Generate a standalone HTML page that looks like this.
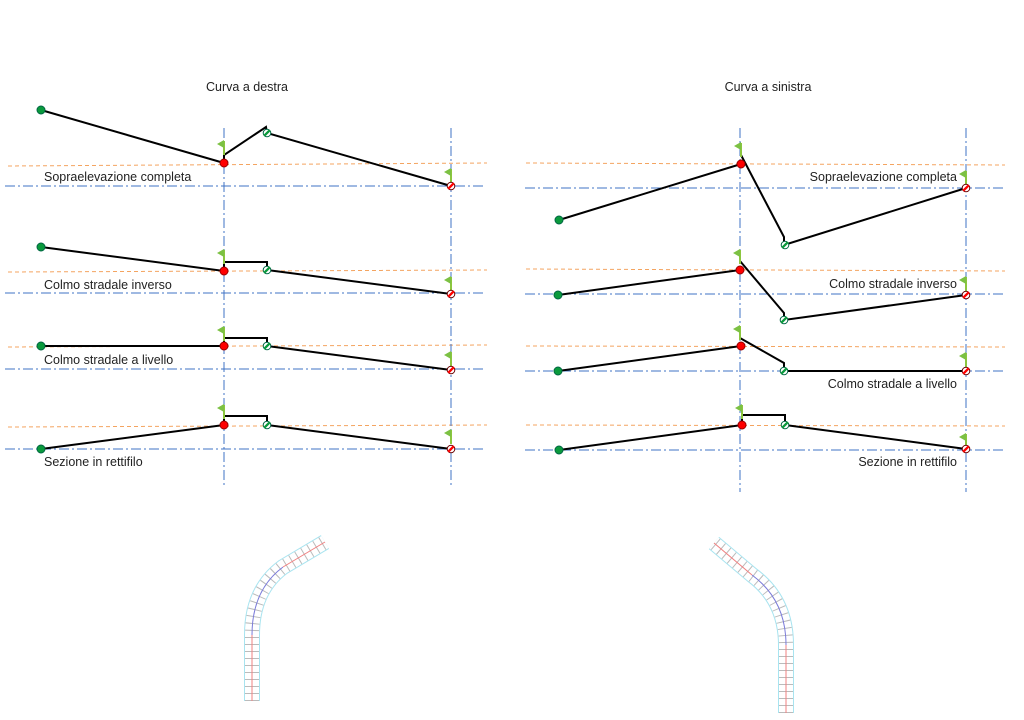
<!DOCTYPE html>
<html><head><meta charset="utf-8"><style>
html,body{margin:0;padding:0;background:#fff;}
svg{display:block;}
text{font-family:"Liberation Sans",sans-serif;font-size:12.5px;fill:#222;}
</style></head><body>
<svg width="1024" height="720" viewBox="0 0 1024 720" xmlns="http://www.w3.org/2000/svg">
<defs>
<g id="gd"><circle r="4" fill="#0a9a3c" stroke="#064" stroke-width="1"/></g>
<g id="rd"><circle r="4" fill="#f00" stroke="#900" stroke-width="1"/></g>
<g id="gh"><circle r="3.8" fill="#fff" stroke="#064" stroke-width="1"/><line x1="-2.8" y1="2.8" x2="2.8" y2="-2.8" stroke="#0a9a3c" stroke-width="2.4"/></g>
<g id="rh"><circle r="3.8" fill="#fff" stroke="#600" stroke-width="1"/><line x1="-2.8" y1="2.8" x2="2.8" y2="-2.8" stroke="#f00" stroke-width="2.4"/></g>
<g id="fl"><line x1="0" y1="0" x2="0" y2="14" stroke="#8cc63f" stroke-width="2"/><polygon points="0,-1 -7,3 0,7" fill="#7cc143"/></g>
</defs>

<text x="247" y="91" text-anchor="middle">Curva a destra</text>
<text x="768" y="91" text-anchor="middle">Curva a sinistra</text>

<g stroke="#f4a460" stroke-width="1" stroke-dasharray="4,3" fill="none">
<line x1="8" y1="166" x2="487" y2="163"/>
<line x1="8" y1="272" x2="487" y2="270"/>
<line x1="8" y1="347" x2="487" y2="345"/>
<line x1="8" y1="427" x2="487" y2="425"/>
<line x1="526" y1="163" x2="1005" y2="165"/>
<line x1="526" y1="269" x2="1005" y2="271"/>
<line x1="526" y1="346" x2="1005" y2="347"/>
<line x1="526" y1="425" x2="1005" y2="426"/>
</g>
<g stroke="#3f73c4" stroke-width="1" stroke-dasharray="10,3,2,3" fill="none">
<line x1="5" y1="186" x2="485" y2="186"/>
<line x1="5" y1="293" x2="485" y2="293"/>
<line x1="5" y1="369" x2="485" y2="369"/>
<line x1="5" y1="449" x2="485" y2="449"/>
<line x1="525" y1="188" x2="1005" y2="188"/>
<line x1="525" y1="294" x2="1005" y2="294"/>
<line x1="525" y1="371" x2="1005" y2="371"/>
<line x1="525" y1="450" x2="1005" y2="450"/>
<line x1="224" y1="128" x2="224" y2="486"/>
<line x1="451" y1="128" x2="451" y2="486"/>
<line x1="740" y1="128" x2="740" y2="492"/>
<line x1="966" y1="128" x2="966" y2="492"/>
</g>

<g stroke="#000" stroke-width="2" fill="none" stroke-linejoin="miter">
<polyline points="41,110 224,163 224,155 266,127 267,133 451,186"/>
<polyline points="41,247 224,271 224,262 267,262 267,270 451,294"/>
<polyline points="41,346 224,346 224,338 267,338 267,346 451,370"/>
<polyline points="41,449 224,425 224,416 267,416 267,425 451,449"/>
<polyline points="559,220 741,164"/>
<polyline points="741,155 784,237 784,245 966,188"/>
<polyline points="558,295 740,270"/>
<polyline points="740,261 784,313 784,320 966,295"/>
<polyline points="558,371 741,346"/>
<polyline points="740,338 784,363 784,371 966,371"/>
<polyline points="559,450 742,425 742,415 785,415 785,425 966,449"/>
</g>

<use href="#fl" x="224" y="141"/><use href="#fl" x="451" y="169"/>
<use href="#fl" x="224" y="250"/><use href="#fl" x="451" y="277"/>
<use href="#fl" x="224" y="327"/><use href="#fl" x="451" y="352"/>
<use href="#fl" x="224" y="405"/><use href="#fl" x="451" y="430"/>
<use href="#fl" x="741" y="143"/><use href="#fl" x="966" y="171"/>
<use href="#fl" x="740" y="250"/><use href="#fl" x="966" y="277"/>
<use href="#fl" x="740" y="326"/><use href="#fl" x="966" y="353"/>
<use href="#fl" x="742" y="405"/><use href="#fl" x="966" y="434"/>

<use href="#gd" x="41" y="110"/><use href="#rd" x="224" y="163"/><use href="#gh" x="267" y="133"/><use href="#rh" x="451" y="186"/>
<use href="#gd" x="41" y="247"/><use href="#rd" x="224" y="271"/><use href="#gh" x="267" y="270"/><use href="#rh" x="451" y="294"/>
<use href="#gd" x="41" y="346"/><use href="#rd" x="224" y="346"/><use href="#gh" x="267" y="346"/><use href="#rh" x="451" y="370"/>
<use href="#gd" x="41" y="449"/><use href="#rd" x="224" y="425"/><use href="#gh" x="267" y="425"/><use href="#rh" x="451" y="449"/>
<use href="#gd" x="559" y="220"/><use href="#rd" x="741" y="164"/><use href="#gh" x="785" y="245"/><use href="#rh" x="966" y="188"/>
<use href="#gd" x="558" y="295"/><use href="#rd" x="740" y="270"/><use href="#gh" x="784" y="320"/><use href="#rh" x="966" y="295"/>
<use href="#gd" x="558" y="371"/><use href="#rd" x="741" y="346"/><use href="#gh" x="784" y="371"/><use href="#rh" x="966" y="371"/>
<use href="#gd" x="559" y="450"/><use href="#rd" x="742" y="425"/><use href="#gh" x="785" y="425"/><use href="#rh" x="966" y="449"/>

<text x="44" y="181">Sopraelevazione completa</text>
<text x="44" y="289">Colmo stradale inverso</text>
<text x="44" y="364">Colmo stradale a livello</text>
<text x="44" y="466">Sezione in rettifilo</text>
<text x="957" y="181" text-anchor="end">Sopraelevazione completa</text>
<text x="957" y="288" text-anchor="end">Colmo stradale inverso</text>
<text x="957" y="388" text-anchor="end">Colmo stradale a livello</text>
<text x="957" y="466" text-anchor="end">Sezione in rettifilo</text>

<g fill="none">
<path d="M252,701 L252,635 Q252,590 283,567 L325,542" stroke="#a8e4f0" stroke-width="16"/>
<path d="M252,701 L252,635 Q252,590 283,567 L325,542" stroke="#fff" stroke-width="14"/>
<path d="M252,701 L252,635 Q252,590 283,567 L325,542" stroke="#bbb" stroke-width="14" stroke-dasharray="1,6"/>
<path d="M252,701 L252,635" stroke="#f08080" stroke-width="1"/>
<path d="M252,635 Q252,590 283,567" stroke="#7b7bd9" stroke-width="1"/>
<path d="M283,567 L325,542" stroke="#f08080" stroke-width="1"/>

<path d="M786,713 L786,645 Q786,600 752,575 L714,543" stroke="#a8e4f0" stroke-width="16"/>
<path d="M786,713 L786,645 Q786,600 752,575 L714,543" stroke="#fff" stroke-width="14"/>
<path d="M786,713 L786,645 Q786,600 752,575 L714,543" stroke="#bbb" stroke-width="14" stroke-dasharray="1,6"/>
<path d="M786,713 L786,645" stroke="#f08080" stroke-width="1"/>
<path d="M786,645 Q786,600 752,575" stroke="#7b7bd9" stroke-width="1"/>
<path d="M752,575 L714,543" stroke="#f08080" stroke-width="1"/>
</g>
</svg>
</body></html>
